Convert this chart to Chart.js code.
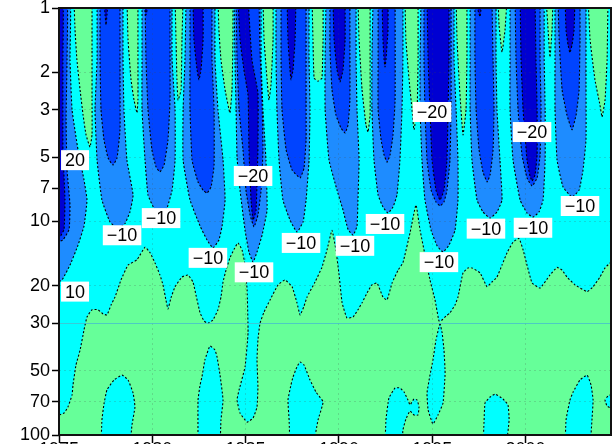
<!DOCTYPE html>
<html lang="en">
<head>
<meta charset="UTF-8">
<title>Pressure-time section</title>
<script src="https://cdn.jsdelivr.net/npm/chart.js"></script>
<style>
  html, body { margin: 0; padding: 0; background: #fff; overflow: hidden; }
  .wrap { position: absolute; left: 0; top: 0; width: 614px; height: 470px; }
</style>
</head>
<body>
<div class="wrap"><canvas id="chart"></canvas></div>
<script>
// axis ticks
const yearTicks = [1975, 1980, 1985, 1990, 1995, 2000];
const pressureTicks = [1, 2, 3, 5, 7, 10, 20, 30, 50, 70, 100];

// contour regions, points are [year, hPa]
// green area below the 0 line
const greenBottom = [[1974.8,80.6],[1975.0,80.6],[1975.27,78.9],[1975.48,73.9],[1975.70,64.9],[1975.75,58.3],[1975.91,47.0],[1976.13,40.0],[1976.34,32.2],[1976.50,28.0],[1976.77,25.9],[1977.09,25.9],[1977.36,27.1],[1977.57,27.4],[1977.79,24.6],[1978.00,22.6],[1978.32,18.8],[1978.70,16.0],[1979.18,15.1],[1979.61,13.2],[1979.88,14.0],[1980.14,15.6],[1980.41,17.8],[1980.57,19.8],[1980.73,23.3],[1980.84,25.7],[1981.00,22.8],[1981.22,20.2],[1981.59,18.2],[1981.91,17.8],[1982.18,19.2],[1982.34,22.1],[1982.56,26.8],[1982.77,29.2],[1982.98,30.0],[1983.25,28.9],[1983.52,25.9],[1983.68,22.6],[1983.79,19.2],[1983.95,16.9],[1984.16,14.8],[1984.38,13.5],[1984.59,12.6],[1984.81,13.6],[1984.97,16.0],[1985.08,20.9],[1985.13,33.2],[1984.97,48.0],[1984.65,61.5],[1984.54,68.6],[1984.70,78.9],[1985.08,87.0],[1985.40,83.3],[1985.61,73.9],[1985.66,59.6],[1985.61,44.5],[1985.66,35.9],[1985.77,30.0],[1985.99,26.5],[1986.31,23.3],[1986.74,19.8],[1987.11,18.8],[1987.49,20.2],[1987.75,24.0],[1987.92,27.4],[1988.13,24.9],[1988.29,22.6],[1988.72,19.2],[1989.09,16.4],[1989.36,13.6],[1989.63,11.0],[1989.84,13.6],[1990.01,17.8],[1990.17,24.0],[1990.43,28.3],[1990.76,28.0],[1991.02,25.9],[1991.24,24.0],[1991.51,21.6],[1991.77,19.8],[1992.04,19.4],[1992.36,22.6],[1992.58,23.3],[1992.85,19.4],[1993.17,16.9],[1993.43,15.6],[1993.81,11.3],[1994.13,8.37],[1994.35,11.0],[1994.61,14.3],[1994.88,18.8],[1995.15,23.3],[1995.36,29.2],[1995.47,29.2],[1995.74,27.7],[1995.95,26.8],[1996.22,24.6],[1996.38,22.6],[1996.65,17.4],[1996.92,16.5],[1997.13,16.5],[1997.56,17.4],[1997.94,20.2],[1998.20,19.2],[1998.47,18.2],[1998.74,16.0],[1999.01,14.0],[1999.33,12.5],[1999.65,12.0],[1999.87,13.6],[2000.08,16.0],[2000.35,19.4],[2000.78,20.5],[2001.31,17.8],[2001.69,16.4],[2001.96,16.9],[2002.22,18.2],[2002.65,19.8],[2003.30,21.3],[2003.62,20.2],[2003.99,18.2],[2004.26,16.5],[2004.58,15.5],[2004.8,15.1],[2004.8,115],[1974.8,115]];

// cyan pockets inside the green area
const cyanTongues = [
  [[1977.25,115],[1977.30,85.1],[1977.41,71.6],[1977.57,61.5],[1977.95,55.2],[1978.38,52.4],[1978.70,55.2],[1978.97,63.6],[1979.07,73.9],[1978.91,89.8],[1978.80,115]],
  [[1982.45,115],[1982.45,68.6],[1982.56,58.3],[1982.66,53.5],[1982.82,44.5],[1983.09,38.3],[1983.36,40.0],[1983.47,43.1],[1983.63,52.4],[1983.79,68.6],[1983.68,85.1],[1983.63,115]],
  [[1987.38,115],[1987.33,85.1],[1987.27,68.6],[1987.43,58.3],[1987.54,53.5],[1987.75,48.0],[1987.92,45.5],[1988.13,47.0],[1988.45,55.2],[1988.77,62.9],[1989.15,70.0],[1988.88,85.1],[1988.61,115]],
  [[1992.47,115],[1992.52,85.1],[1992.68,67.1],[1993.01,60.2],[1993.27,60.2],[1993.49,62.9],[1993.70,68.6],[1993.81,72.3],[1994.02,67.8],[1994.19,68.6],[1994.29,73.9],[1994.24,80.6],[1994.02,80.6],[1993.81,77.2],[1993.59,84.2],[1993.43,94.7],[1993.38,115]],
  [[1995.42,30.0],[1995.53,33.2],[1995.63,40.0],[1995.69,51.3],[1995.58,70.8],[1995.31,80.6],[1995.04,88.8],[1994.78,76.4],[1994.72,63.6],[1994.88,52.4],[1995.04,44.5],[1995.20,35.9],[1995.36,31.3],[1995.42,30.0]],
  [[1997.72,115],[1997.78,85.1],[1997.83,70.8],[1998.10,66.4],[1998.37,64.3],[1998.79,67.8],[1999.06,72.3],[1999.12,85.1],[1998.96,115]],
  [[2002.12,115],[2002.17,85.1],[2002.38,68.6],[2002.55,62.9],[2002.92,55.2],[2003.30,52.4],[2003.51,58.3],[2003.62,68.6],[2003.56,85.1],[2003.46,115]],
  [[2004.8,63.6],[2004.42,65.7],[2004.26,68.6],[2004.37,73.1],[2004.8,76.4]]
];

// green stripes hanging from 1 hPa
const greenStripes = [
  [[1975.80,0.9],[1975.86,1.27],[1975.96,1.75],[1976.13,2.42],[1976.29,3.17],[1976.45,3.93],[1976.66,4.48],[1976.77,3.93],[1976.77,2.70],[1976.77,1.57],[1976.77,0.9]],
  [[1978.64,0.9],[1978.70,1.41],[1978.86,2.17],[1979.02,2.70],[1979.18,3.10],[1979.23,2.70],[1979.23,1.57],[1979.23,0.9]],
  [[1981.22,0.9],[1981.27,1.41],[1981.32,2.17],[1981.38,2.70],[1981.54,2.42],[1981.59,1.41],[1981.65,0.9]],
  [[1983.52,0.9],[1983.57,1.27],[1983.68,1.75],[1983.90,2.42],[1984.16,3.10],[1984.27,2.42],[1984.32,1.41],[1984.32,0.9]],
  [[1985.93,0.9],[1985.99,1.41],[1986.15,2.17],[1986.25,2.70],[1986.36,2.29],[1986.47,1.41],[1986.47,0.9]],
  [[1988.56,0.9],[1988.61,1.41],[1988.67,2.13],[1988.88,2.20],[1989.09,2.13],[1989.15,1.41],[1989.15,0.9]],
  [[1991.02,0.9],[1991.08,1.41],[1991.24,2.42],[1991.45,3.53],[1991.56,3.81],[1991.67,3.17],[1991.67,1.75],[1991.67,0.9]],
  [[1993.54,0.9],[1993.59,1.41],[1993.76,2.17],[1993.92,3.0],[1994.02,3.72],[1994.19,3.0],[1994.24,1.75],[1994.24,0.9]],
  [[1996.28,0.9],[1996.33,1.41],[1996.44,2.17],[1996.54,3.0],[1996.65,3.93],[1996.81,3.0],[1996.86,1.75],[1996.86,0.9]],
  [[1998.53,0.9],[1998.58,1.20],[1998.74,1.61],[1998.90,1.27],[1999.01,0.9]],
  [[2001.10,0.9],[2001.21,1.27],[2001.31,1.70],[2001.42,1.27],[2001.47,0.9]],
  [[2003.35,0.9],[2003.46,1.41],[2003.72,2.17],[2003.99,2.85],[2004.10,3.24],[2004.26,2.70],[2004.37,1.75],[2004.42,0.9]]
];

// -10 contour (light blue)
const mediumTongues = [
  [[1974.8,0.9],[1975.59,0.9],[1975.59,1.75],[1975.70,3.0],[1976.02,4.62],[1976.34,6.39],[1976.50,7.93],[1976.34,10.5],[1976.02,12.9],[1975.59,16.0],[1975.16,18.8],[1974.8,19.4]],
  [[1977.04,0.9],[1977.04,1.75],[1976.93,3.0],[1977.04,5.16],[1977.30,7.93],[1977.73,10.05],[1978.16,10.8],[1978.54,10.2],[1978.80,9.03],[1978.97,7.52],[1978.64,5.16],[1978.48,3.0],[1978.43,1.75],[1978.43,0.9]],
  [[1979.45,0.9],[1979.45,1.75],[1979.45,3.0],[1979.61,5.16],[1979.77,7.52],[1980.14,8.84],[1980.47,9.33],[1980.79,8.64],[1981.06,7.13],[1981.22,5.16],[1981.22,3.0],[1981.06,1.75],[1981.06,0.9]],
  [[1981.81,0.9],[1981.75,1.75],[1981.65,3.0],[1981.65,5.16],[1982.02,7.93],[1982.56,10.5],[1982.93,12.2],[1983.25,13.3],[1983.57,12.2],[1983.74,10.5],[1983.90,7.93],[1983.79,5.16],[1983.52,3.0],[1983.36,1.75],[1983.36,0.9]],
  [[1984.38,0.9],[1984.43,1.75],[1984.49,3.0],[1984.54,5.0],[1984.70,7.13],[1984.97,11.0],[1985.18,13.9],[1985.40,15.5],[1985.61,13.9],[1985.88,11.6],[1986.15,8.84],[1986.09,5.16],[1985.93,3.0],[1985.83,1.75],[1985.83,0.9]],
  [[1986.63,0.9],[1986.63,1.75],[1986.68,3.0],[1986.79,5.16],[1987.00,7.93],[1987.38,9.85],[1987.75,11.2],[1988.08,10.05],[1988.24,7.93],[1988.40,5.16],[1988.45,3.0],[1988.40,1.75],[1988.40,0.9]],
  [[1989.31,0.9],[1989.26,1.75],[1989.26,3.0],[1989.47,5.16],[1989.90,7.13],[1990.22,8.84],[1990.49,10.9],[1990.76,11.6],[1990.97,10.5],[1991.02,7.93],[1991.08,5.16],[1990.97,3.0],[1990.92,1.75],[1990.92,0.9]],
  [[1991.83,0.9],[1991.77,1.75],[1991.77,3.0],[1991.88,5.16],[1992.10,7.52],[1992.36,8.55],[1992.63,9.13],[1992.90,8.55],[1993.11,7.52],[1993.27,5.16],[1993.38,3.0],[1993.43,1.75],[1993.43,0.9]],
  [[1994.40,0.9],[1994.35,1.75],[1994.35,3.0],[1994.45,5.16],[1994.61,7.93],[1994.94,11.0],[1995.26,13.0],[1995.58,13.9],[1995.90,12.9],[1996.22,11.0],[1996.38,7.93],[1996.38,5.16],[1996.28,3.0],[1996.17,1.75],[1996.17,0.9]],
  [[1997.03,0.9],[1997.03,1.75],[1997.03,3.0],[1997.13,5.16],[1997.40,7.93],[1997.72,9.03],[1998.10,9.64],[1998.47,9.03],[1998.74,7.93],[1998.63,5.16],[1998.47,3.0],[1998.42,1.75],[1998.42,0.9]],
  [[1999.17,0.9],[1999.17,1.75],[1999.17,3.0],[1999.33,5.16],[1999.71,7.93],[2000.08,9.13],[2000.40,9.54],[2000.72,9.03],[2000.94,7.93],[2001.05,5.16],[2001.05,3.0],[2001.0,1.75],[2001.0,0.9]],
  [[2001.58,0.9],[2001.58,1.75],[2001.58,3.0],[2001.69,5.16],[2002.01,6.89],[2002.49,7.69],[2002.87,7.13],[2003.08,5.74],[2003.24,4.15],[2003.24,2.17],[2003.24,0.9]]
];

// -20 contour (blue)
const royalTongues = [
  [[1974.8,0.9],[1975.43,0.9],[1975.43,1.75],[1975.38,3.35],[1975.43,5.74],[1975.59,8.37],[1975.54,10.9],[1975.21,12.2],[1974.8,12.6]],
  [[1977.20,0.9],[1977.20,1.75],[1977.25,3.0],[1977.41,4.15],[1977.63,5.04],[1977.89,5.44],[1978.11,5.04],[1978.27,3.72],[1978.27,2.17],[1978.27,0.9]],
  [[1979.61,0.9],[1979.66,1.75],[1979.77,3.0],[1979.98,4.62],[1980.20,5.55],[1980.41,5.86],[1980.63,5.44],[1980.84,4.15],[1980.95,2.70],[1980.95,1.41],[1980.95,0.9]],
  [[1982.02,0.9],[1982.02,1.75],[1982.02,3.0],[1982.13,5.16],[1982.45,6.53],[1982.72,7.13],[1982.93,7.36],[1983.15,6.89],[1983.31,5.44],[1983.31,3.0],[1983.20,1.75],[1983.20,0.9]],
  [[1984.49,0.9],[1984.54,1.75],[1984.65,3.0],[1984.86,4.62],[1985.02,7.13],[1985.24,9.33],[1985.45,10.6],[1985.66,9.33],[1985.83,7.13],[1985.93,4.62],[1985.88,2.70],[1985.77,1.57],[1985.72,0.9]],
  [[1986.90,0.9],[1986.90,1.75],[1986.95,3.0],[1987.17,4.62],[1987.49,5.74],[1987.92,6.25],[1988.13,5.62],[1988.24,4.15],[1988.24,2.70],[1988.24,0.9]],
  [[1989.52,0.9],[1989.52,1.57],[1989.63,2.42],[1989.84,3.17],[1990.11,3.65],[1990.33,3.85],[1990.49,3.53],[1990.59,2.70],[1990.59,1.57],[1990.59,0.9]],
  [[1992.10,0.9],[1992.10,1.75],[1992.10,3.0],[1992.26,4.15],[1992.42,4.88],[1992.58,5.27],[1992.74,4.88],[1992.90,3.93],[1993.01,2.70],[1993.01,0.9]],
  [[1994.56,0.9],[1994.56,1.75],[1994.61,3.0],[1994.72,5.16],[1994.94,7.13],[1995.20,8.10],[1995.42,8.46],[1995.63,8.10],[1995.79,7.13],[1995.95,5.16],[1996.01,3.0],[1996.01,1.75],[1996.01,0.9]],
  [[1997.29,0.9],[1997.29,1.75],[1997.35,3.0],[1997.51,4.62],[1997.72,5.86],[1997.94,6.53],[1998.10,6.05],[1998.26,4.62],[1998.31,3.0],[1998.26,1.75],[1998.20,0.9]],
  [[1999.44,0.9],[1999.49,1.75],[1999.60,3.0],[1999.81,4.88],[2000.08,6.25],[2000.35,6.82],[2000.62,6.25],[2000.78,4.88],[2000.83,3.0],[2000.78,1.75],[2000.78,0.9]],
  [[2001.74,0.9],[2001.80,1.41],[2001.96,2.42],[2002.22,3.17],[2002.49,3.72],[2002.71,3.17],[2002.87,2.42],[2002.92,1.41],[2002.92,0.9]]
];

// -30 contour (dark blue)
const darkTongues = [
  [[1974.8,0.9],[1975.21,0.9],[1975.21,1.75],[1975.21,4.62],[1975.32,7.93],[1975.27,10.9],[1975.05,11.8],[1974.8,12.0]],
  [[1977.41,0.9],[1977.47,1.08],[1977.52,1.20],[1977.57,1.08],[1977.63,0.9]],
  [[1979.56,0.9],[1979.61,1.02],[1979.66,1.08],[1979.72,1.02],[1979.77,0.9]],
  [[1982.18,0.9],[1982.23,1.41],[1982.40,1.95],[1982.50,2.17],[1982.61,1.95],[1982.72,1.41],[1982.72,0.9]],
  [[1984.59,0.9],[1984.70,1.41],[1984.91,1.95],[1985.13,2.56],[1985.18,4.62],[1985.29,7.93],[1985.40,9.85],[1985.56,8.84],[1985.66,4.62],[1985.66,2.50],[1985.34,1.75],[1985.13,0.9]],
  [[1987.22,0.9],[1987.27,1.41],[1987.38,1.95],[1987.43,2.17],[1987.54,1.95],[1987.65,1.41],[1987.70,0.9]],
  [[1989.68,0.9],[1989.74,1.41],[1989.90,1.95],[1990.06,2.22],[1990.22,1.95],[1990.33,1.41],[1990.33,0.9]],
  [[1992.31,0.9],[1992.36,1.41],[1992.42,1.75],[1992.47,1.89],[1992.52,1.75],[1992.63,1.27],[1992.63,0.9]],
  [[1994.72,0.9],[1994.78,1.75],[1994.88,3.0],[1994.99,5.16],[1995.20,7.13],[1995.42,7.93],[1995.63,7.13],[1995.79,5.16],[1995.85,3.0],[1995.90,1.75],[1995.90,0.9]],
  [[1997.40,0.9],[1997.45,1.02],[1997.56,1.10],[1997.61,1.02],[1997.67,0.9]],
  [[1999.71,0.9],[1999.76,1.75],[1999.87,3.0],[2000.08,5.16],[2000.24,6.12],[2000.35,6.46],[2000.51,6.05],[2000.62,4.88],[2000.62,3.0],[2000.56,1.75],[2000.51,0.9]],
  [[2002.12,0.9],[2002.17,1.27],[2002.28,1.49],[2002.38,1.62],[2002.49,1.49],[2002.60,1.27],[2002.65,0.9]]
];

// contour labels [year, hPa, text]
const contourLabels = [
  [1975.86, 5.16, '20'], [1978.38, 11.6, '−10'], [1980.47, 9.64, '−10'], [1975.86, 21.3, '10'],
  [1985.40, 6.12, '−20'], [1982.98, 14.8, '−10'], [1985.45, 17.3, '−10'], [1987.97, 12.6, '−10'],
  [1990.86, 13.0, '−10'], [1992.47, 10.27, '−10'], [1994.99, 3.07, '−20'], [1995.36, 15.5, '−10'],
  [2000.35, 3.81, '−20'], [1997.88, 10.8, '−10'], [2000.40, 10.7, '−10'], [2002.92, 8.46, '−10']
];

const colors = {
  cyan: '#00ffff',
  green: '#66ff99',
  medium: '#1e8cff',
  royal: '#0044ff',
  dark: '#0000d2'
};
const FONT = '"Liberation Sans", Arial, Helvetica, sans-serif';

function region(points, color, order) {
  return {
    data: points.map(([x, y]) => ({ x, y })),
    backgroundColor: color,
    borderColor: '#000',
    borderWidth: 1.1,
    borderDash: [2, 2],
    fill: 'shape',
    pointRadius: 0,
    tension: 0.12,
    order: order,
    clip: 0
  };
}

const datasets = [].concat(
  [region(greenBottom, colors.green, 60)],
  cyanTongues.map(p => region(p, colors.cyan, 50)),
  greenStripes.map(p => region(p, colors.green, 40)),
  mediumTongues.map(p => region(p, colors.medium, 30)),
  royalTongues.map(p => region(p, colors.royal, 20)),
  darkTongues.map(p => region(p, colors.dark, 10))
);

// cyan is the base colour of the plot area
const backdrop = {
  id: 'backdrop',
  beforeDatasetsDraw(chart) {
    const { ctx, chartArea: a } = chart;
    ctx.save();
    ctx.fillStyle = colors.cyan;
    ctx.fillRect(a.left, a.top, a.width, a.height);
    ctx.restore();
  }
};

// white label boxes and the frame
const overlay = {
  id: 'overlay',
  afterDraw(chart) {
    const { ctx, chartArea: a, scales: { x, y } } = chart;
    ctx.save();
    ctx.beginPath();
    ctx.rect(a.left, a.top, a.width, a.height);
    ctx.clip();
    ctx.font = '18px ' + FONT;
    ctx.textAlign = 'center';
    ctx.textBaseline = 'middle';
    contourLabels.forEach(([yr, p, t]) => {
      const px = x.getPixelForValue(yr);
      const py = y.getPixelForValue(p);
      const w = ctx.measureText(t).width + 8;
      ctx.fillStyle = '#fff';
      ctx.fillRect(px - w / 2, py - 10, w, 20);
      ctx.fillStyle = '#000';
      ctx.fillText(t, px, py + 1);
    });
    ctx.restore();

    ctx.save();
    ctx.strokeStyle = '#111';
    ctx.lineWidth = 2;
    ctx.strokeRect(a.left, a.top, a.width, a.height);
    ctx.restore();
  }
};

const gridFaint = 'rgba(70,70,70,0.2)';

new Chart(document.getElementById('chart'), {
  type: 'line',
  data: { datasets },
  options: {
    responsive: true,
    maintainAspectRatio: false,
    animation: false,
    events: [],
    layout: { padding: { top: 8, right: 3, left: 0, bottom: 0 } },
    plugins: { legend: { display: false }, tooltip: { enabled: false } },
    elements: { line: { capBezierPoints: false } },
    scales: {
      x: {
        type: 'linear',
        min: 1975,
        max: 2004.58,
        afterBuildTicks: s => { s.ticks = yearTicks.map(v => ({ value: v })); },
        afterFit: s => { s.height = 35; s.paddingLeft = 0; s.paddingRight = 0; },
        ticks: { autoSkip: false, maxRotation: 0, padding: -4, color: '#000',
                 font: { family: FONT, size: 18 }, callback: v => String(v) },
        grid: { z: 1, color: gridFaint, lineWidth: 1, tickLength: 8, tickColor: '#000', tickWidth: 1.5 },
        border: { display: false, dash: [2, 3] }
      },
      y: {
        type: 'logarithmic',
        reverse: true,
        min: 1,
        max: 100,
        afterBuildTicks: s => { s.ticks = pressureTicks.map(v => ({ value: v })); },
        afterFit: s => { s.width = 59; s.paddingTop = 0; s.paddingBottom = 0; },
        ticks: { autoSkip: false, padding: 2, color: '#000',
                 font: { family: FONT, size: 18 }, callback: v => String(v) },
        grid: {
          z: 1,
          color: c => (c.tick && c.tick.value === 30) ? 'rgba(70,190,205,0.8)' : gridFaint,
          lineWidth: 1, tickLength: 7, tickColor: '#000', tickWidth: 1.5
        },
        border: { display: false, dash: c => (c.tick && c.tick.value === 30) ? [] : [2, 3] }
      }
    }
  },
  plugins: [backdrop, overlay]
});
</script>
</body>
</html>
